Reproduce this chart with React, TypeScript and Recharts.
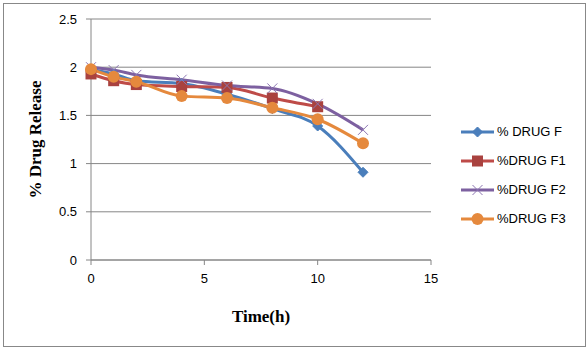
import React from 'react';
import { LineChart, Line, XAxis, YAxis, CartesianGrid } from 'recharts';

const timeH = [0, 1, 2, 4, 6, 8, 10, 12];
const drugF = [1.98, 1.93, 1.86, 1.83, 1.72, 1.57, 1.39, 0.91];
const drugF1 = [1.93, 1.86, 1.82, 1.80, 1.79, 1.68, 1.59, null];
const drugF2 = [2.0, 1.97, 1.92, 1.87, 1.81, 1.78, 1.62, 1.35];
const drugF3 = [1.98, 1.9, 1.85, 1.70, 1.68, 1.58, 1.46, 1.21];
const xTicks = [0, 5, 10, 15];
const yTicks = [0, 0.5, 1, 1.5, 2, 2.5];

const seriesNames = ['% DRUG F', '%DRUG F1', '%DRUG F2', '%DRUG F3'];
const keys = ['f', 'f1', 'f2', 'f3'];
const colors = ['#4A7EBB', '#BE4B48', '#7D60A0', '#E5893D'];
const markerFill = ['#4A7EBB', '#A9423F', '#7D60A0', '#E5893D'];

const data = timeH.map((t, i) => ({
  t,
  f: drugF[i],
  f1: drugF1[i],
  f2: drugF2[i],
  f3: drugF3[i],
}));

const Marker = ({ idx, cx, cy }: { idx: number; cx: number; cy: number }) => {
  const c = markerFill[idx];
  if (idx === 0) {
    const s = 5;
    return <polygon points={`${cx},${cy - s} ${cx + s},${cy} ${cx},${cy + s} ${cx - s},${cy}`} fill={c} stroke={c} />;
  }
  if (idx === 1) {
    const s = 5.5;
    return <rect x={cx - s} y={cy - s} width={2 * s} height={2 * s} fill={c} />;
  }
  if (idx === 2) {
    const s = 5;
    return (
      <g stroke="#8C76B2" strokeWidth={1}>
        <line x1={cx - s} y1={cy - s} x2={cx + s} y2={cy + s} />
        <line x1={cx - s} y1={cy + s} x2={cx + s} y2={cy - s} />
      </g>
    );
  }
  return <circle cx={cx} cy={cy} r={6} fill={c} />;
};

const makeDot = (idx: number) => (props: any) => {
  const { cx, cy, value, index } = props;
  if (cx == null || cy == null || value == null || (Array.isArray(value) && value[1] == null)) {
    return <g key={`d${idx}-${index}`} />;
  }
  return (
    <g key={`d${idx}-${index}`}>
      <Marker idx={idx} cx={cx} cy={cy} />
    </g>
  );
};

const tickStyle = { fontFamily: '"Liberation Sans", Arial, sans-serif', fontSize: 13, fill: '#000' };
const titleStyle = { fontFamily: '"Liberation Serif", "Times New Roman", serif', fontSize: 17, fontWeight: 700, fill: '#000' };

export default function App() {
  return (
    <div style={{ position: 'absolute', left: 0, top: 0, width: 588, height: 352, background: '#fff' }}>
      <div style={{ position: 'absolute', left: 3, top: 3, width: 581, height: 342, border: '1px solid #888' }} />
      <div style={{ position: 'absolute', left: 0, top: 0 }}>
        <LineChart width={588} height={352} data={data} margin={{ top: 19, right: 157, bottom: 27, left: 0 }}>
          <CartesianGrid horizontal={true} vertical={false} stroke="#868686" strokeWidth={1} />
          <XAxis
            dataKey="t"
            type="number"
            domain={[0, 15]}
            ticks={xTicks}
            interval={0}
            height={65}
            stroke="#868686"
            tickSize={5}
            tickMargin={9}
            tick={tickStyle}
            label={{ value: 'Time(h)', position: 'insideBottom', offset: 3, style: titleStyle }}
          />
          <YAxis
            type="number"
            domain={[0, 2.5]}
            ticks={yTicks}
            interval={0}
            width={91}
            stroke="#868686"
            tickSize={5}
            tickMargin={9}
            tick={tickStyle}
            label={{ value: '% Drug Release', angle: -90, position: 'insideLeft', offset: 35, style: { ...titleStyle, textAnchor: 'middle' } }}
          />
          {keys.map((k, i) => (
            <Line
              key={k}
              dataKey={k}
              name={seriesNames[i]}
              type="monotone"
              stroke={colors[i]}
              strokeWidth={3}
              dot={makeDot(i)}
              activeDot={false}
              isAnimationActive={false}
            />
          ))}
        </LineChart>
      </div>
      <div style={{ position: 'absolute', left: 461, top: 117 }}>
        {seriesNames.map((name, i) => (
          <div key={name} style={{ display: 'flex', alignItems: 'center', height: 29 }}>
            <svg width={36} height={14} style={{ display: 'block' }}>
              <line x1={0} y1={7} x2={33} y2={7} stroke={colors[i]} strokeWidth={3} />
              <Marker idx={i} cx={16.5} cy={7} />
            </svg>
            <span style={{ fontFamily: '"Liberation Sans", Arial, sans-serif', fontSize: 13, color: '#000', whiteSpace: 'nowrap' }}>
              {name}
            </span>
          </div>
        ))}
      </div>
    </div>
  );
}
